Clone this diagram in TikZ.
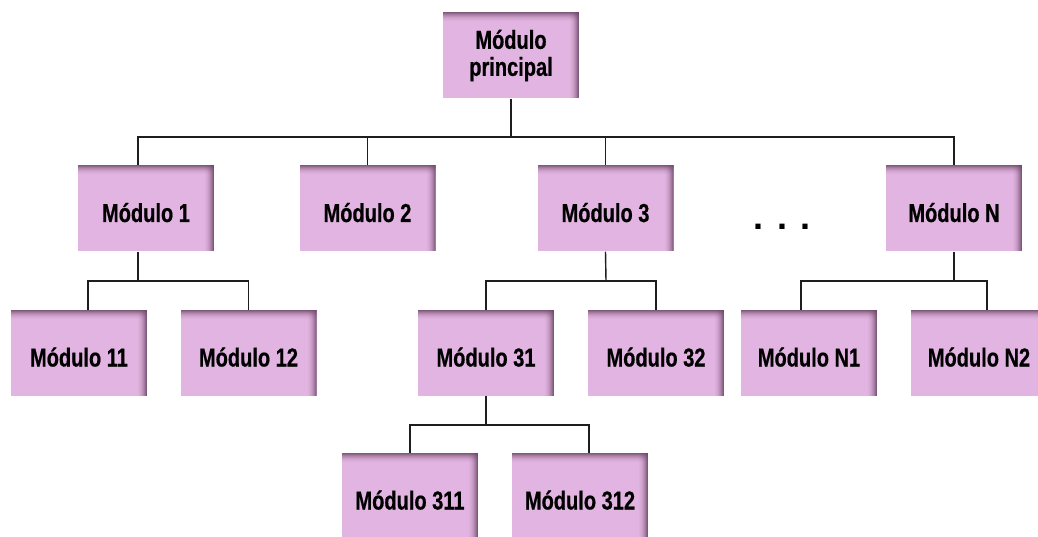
\documentclass[tikz,border=0pt]{standalone}
\usepackage{fontspec}
\newfontfamily\boxfont{Liberation Sans}[FakeStretch=0.77, FakeBold=0.6]
\newfontfamily\dotfont{Liberation Sans}
\usetikzlibrary{calc}
\definecolor{boxfill}{HTML}{E2B4E1}
\definecolor{boxdark}{HTML}{6E4868}
\definecolor{linecol}{HTML}{1E1E1E}
\tikzset{
  mbox/.style={fill=boxfill, draw=none, minimum width=136pt, minimum height=86pt,
    inner sep=0pt, font=\boxfont\bfseries\fontsize{26}{27}\selectfont,
    text height=27pt, text depth=0pt,
    path picture={
      \foreach \i in {0,...,9}{
        \pgfmathsetmacro{\op}{0.85*(1-\i/10)^2}
        \fill[boxdark, opacity=\op]
          ([yshift=-\i pt]path picture bounding box.north west) rectangle
          ([yshift=-\i pt-1pt]path picture bounding box.north east);
        \fill[boxdark, opacity=\op]
          ([xshift=-\i pt]path picture bounding box.north east) rectangle
          ([xshift=-\i pt-1pt]path picture bounding box.south east);
      }
    }},
  mainbox/.style={mbox, text height=, text depth=, align=center},
  conn/.style={draw=linecol, line width=1.4pt}
}
\begin{document}
\begin{tikzpicture}[x=1pt,y=-1pt]
\useasboundingbox[fill=white] (0,0) rectangle (1038,537);

\node[mainbox] (main) at (511,55.5) {Módulo\\principal};

\node[mbox] (m1) at (146,208.5) {Módulo 1};
\node[mbox] (m2) at (367.5,208.5) {Módulo 2};
\node[mbox] (m3) at (605.5,208.5) {Módulo 3};
\node[mbox] (mn) at (954,208.5) {Módulo N};
\node[font=\dotfont\bfseries\fontsize{36}{36}\selectfont, inner sep=0pt, anchor=base] (dots) at (782,230) {. . .};

\node[mbox] (m11) at (79,353) {Módulo 11};
\node[mbox] (m12) at (248.5,353) {Módulo 12};
\node[mbox] (m31) at (486,353) {Módulo 31};
\node[mbox] (m32) at (656,353) {Módulo 32};
\node[mbox] (mn1) at (809,353) {Módulo N1};
\node[mbox] (mn2) at (979,353) {Módulo N2};

\node[mbox] (m311) at (410,496) {Módulo 311};
\node[mbox] (m312) at (580,496) {Módulo 312};

\coordinate (b0) at (511,137);
\coordinate (j1) at (138,281);
\coordinate (j3) at (606,281);
\coordinate (jn) at (954,281);
\coordinate (j31) at (486,425);

\draw[conn] (main.south) -- (b0);
\draw[conn] ([xshift=-8pt]m1.north) |- (b0) -| (mn.north);
\draw[conn] (m2.north) -- (m2.north |- b0);
\draw[conn] (m3.north) -- (m3.north |- b0);

\draw[conn] ([xshift=-8pt]m1.south) -- (j1);
\draw[conn] ([xshift=9pt]m11.north) |- (j1) -| (m12.north);

\draw[conn] (m3.south) -- (j3);
\draw[conn] (m31.north) |- (j3) -| (m32.north);

\draw[conn] (mn.south) -- (jn);
\draw[conn] ([xshift=-8pt]mn1.north) |- (jn) -| ([xshift=8pt]mn2.north);

\draw[conn] (m31.south) -- (j31);
\draw[conn] (m311.north) |- (j31) -| ([xshift=9pt]m312.north);
\end{tikzpicture}
\end{document}
